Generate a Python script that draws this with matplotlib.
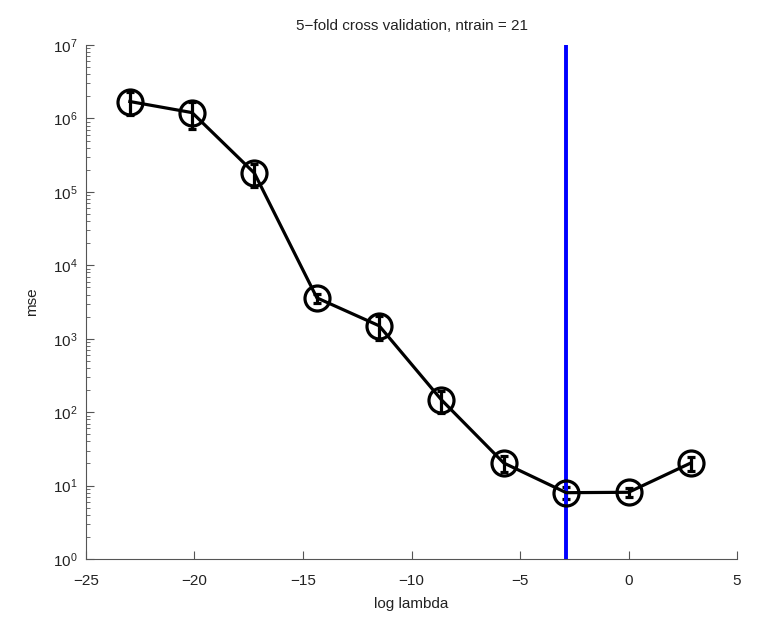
import numpy as np
from matplotlib import pyplot as plt

# 交叉验证结果
log_lambda = [-22.98, -20.11, -17.24, -14.36, -11.49, -8.62, -5.75, -2.87, 0.0, 2.87]
mse_mean = [1.7e6, 1.2e6, 1.8e5, 3600, 1500, 147, 20.3, 8.0, 8.1, 20.3]
mse_se = [0.6e6, 0.48e6, 0.63e5, 500, 550, 50, 5.0, 1.5, 1.2, 4.5]
best_log_lambda = -2.87

plt.rcParams['font.family'] = ['Liberation Sans', 'DejaVu Sans']
plt.rcParams['mathtext.fontset'] = 'custom'
plt.rcParams['mathtext.rm'] = 'Liberation Sans'

fig = plt.figure(figsize=(7.57, 6.2), dpi=100)
ax = fig.add_axes([0.1136, 0.0984, 0.86, 0.829])

ax.errorbar(log_lambda, mse_mean, yerr=mse_se, fmt='-o', color='black',
            markersize=18, markerfacecolor='none', markeredgewidth=2.3,
            linewidth=2.3, elinewidth=2.3, capsize=3, capthick=2.3)
ax.axvline(best_log_lambda, color='#0000ff', linewidth=2.8)

ax.set_yscale('log')
ax.set_xlim(-25, 5)
ax.set_ylim(1, 1e7)
ax.set_xticks([-25, -20, -15, -10, -5, 0, 5])
ax.set_xticklabels(['\u221225', '\u221220', '\u221215', '\u221210', '\u22125', '0', '5'])
ax.set_yticks([10.0 ** k for k in range(8)])

for side in ['top', 'right']:
    ax.spines[side].set_visible(False)
for side in ['left', 'bottom']:
    ax.spines[side].set_color('#555555')
ax.tick_params(which='both', direction='in', colors='#555555', labelcolor='#222222',
               labelsize=11)
ax.tick_params(which='major', length=6)
ax.tick_params(which='minor', length=3)
ax.tick_params(axis='x', pad=11)
ax.tick_params(axis='y', pad=6)

ax.set_title('5\u2212fold cross validation, ntrain = 21', fontsize=11, color='#222222', pad=11)
ax.set_xlabel('log lambda', fontsize=11, color='#222222', labelpad=6)
ax.set_ylabel('mse', fontsize=11, color='#222222', labelpad=10)

plt.savefig('out.png', dpi=100)
